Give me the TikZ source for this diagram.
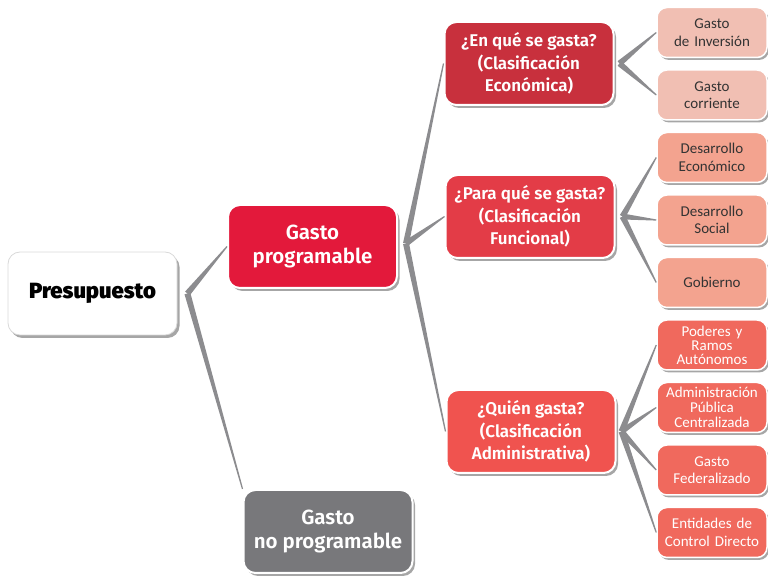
\documentclass[tikz,border=0pt]{standalone}
\usepackage{fontspec}
\setmainfont{Carlito}
\newfontfamily\negrafont{Fira Sans Black}
\newfontfamily\mediafont{Fira Sans SemiBold}
\usepackage{tikz}
\usetikzlibrary{positioning}
\usetikzlibrary{calc}
\usetikzlibrary{shadows}

\definecolor{rojo}{HTML}{E3193B}
\definecolor{guinda}{HTML}{C8303D}
\definecolor{rojofun}{HTML}{E33C47}
\definecolor{rojoadm}{HTML}{F0534F}
\definecolor{rosa}{HTML}{F1BFB3}
\definecolor{salmon}{HTML}{F3A38F}
\definecolor{coral}{HTML}{F0695D}
\definecolor{grisno}{HTML}{78787B}
\definecolor{grisrama}{HTML}{8C8C8F}

\begin{document}
\begin{tikzpicture}[x=1pt,y=1pt,node distance=11pt,
  caja/.style={draw=white,line width=2pt,rounded corners=12pt,minimum width=169pt,minimum height=83pt,
    align=center,text=white,font=\mediafont\fontsize{17}{22.5}\selectfont,
    drop shadow={shadow xshift=2.5pt,shadow yshift=-3pt,fill=black,opacity=.35}},
  grande/.style={font=\mediafont\fontsize{20.5}{23.5}\selectfont},
  hoja/.style={draw=white,line width=1.5pt,rounded corners=10pt,minimum width=110pt,minimum height=50pt,
    text width=106pt,inner sep=0pt,align=center,text=black!80,font=\fontsize{15}{17.5}\selectfont,
    drop shadow={shadow xshift=2pt,shadow yshift=-2.5pt,fill=black,opacity=.35}},
  rama/.style={fill=grisrama}]
  \useasboundingbox (0,0) rectangle (768,580);

  \node (pres) at (92.5,286.5)[caja,fill=white,draw=black!15,line width=.8pt,text=black,
    font=\negrafont\fontsize{22}{24}\selectfont]{Presupuesto};
  \node (gp) at (312.5,333.5)[caja,grande,fill=rojo]{Gasto\\programable};
  \node (np) at (328,48.5)[caja,grande,fill=grisno]{Gasto\\no programable};

  \node (eco) at (529,516.5)[caja,fill=guinda]{¿En qué se gasta?\\(Clasificación\\Económica)};
  \node (fun) at (530,363.5)[caja,fill=rojofun]{¿Para qué se gasta?\\(Clasificación\\Funcional)};
  \node (adm) at (531,148.5)[caja,fill=rojoadm]{¿Quién gasta?\\(Clasificación\\Administrativa)};

  % columna derecha
  \node (inv) at (712,547.5)[hoja,fill=rosa]{Gasto\\de Inversión};
  \node[below =of inv,hoja,fill=rosa](corr){Gasto\\corriente};
  \node[below =of corr,hoja,fill=salmon](deco){Desarrollo\\Económico};
  \node[below =of deco,hoja,fill=salmon](dsoc){Desarrollo\\Social};
  \node[below =of dsoc,hoja,fill=salmon](gob){Gobierno};
  \node[below =of gob,hoja,fill=coral,text=white,font=\fontsize{15}{14}\selectfont](pod){Poderes y\\Ramos\\Autónomos};
  \node[below =of pod,hoja,fill=coral,text=white,font=\fontsize{15}{15}\selectfont](apc){Administración\\Pública\\Centralizada};
  \node[below =of apc,hoja,fill=coral,text=white](fed){Gasto\\Federalizado};
  \node[below =of fed,hoja,fill=coral,text=white](ent){Entidades de\\Control Directo};

  \coordinate (vp) at ($(pres.east)+(10,0)$);
  \coordinate (vg) at ($(gp.east)+(8,3)$);
  \coordinate (ve) at ($(eco.east)+(5,0)$);
  \coordinate (vf) at ($(fun.east)+(7,0)$);
  \coordinate (va) at ($(adm.east)+(5,0)$);

  \foreach \a/\b in {vp/gp.west,vp/np.north west,vg/eco.west,vg/fun.west,vg/adm.west,
      ve/inv.west,ve/corr.west,vf/deco.west,vf/dsoc.west,vf/gob.west,
      va/pod.west,va/apc.west,va/fed.west,va/ent.west}
    \fill[rama] ($(\a)!3pt!90:(\b)$) -- ($(\b)!.6pt!-90:(\a)$) -- ($(\b)!.6pt!90:(\a)$) -- ($(\a)!3pt!-90:(\b)$) -- cycle;
\end{tikzpicture}
\end{document}
